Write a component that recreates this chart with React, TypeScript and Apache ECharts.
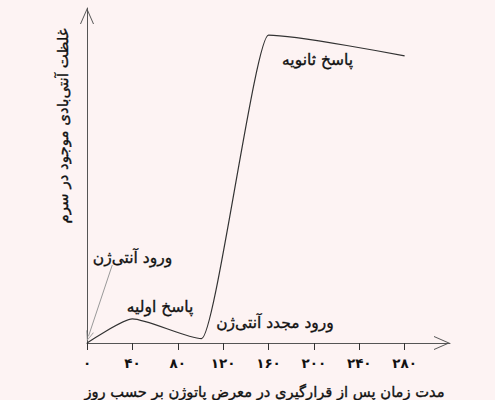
import React, { useEffect, useRef } from "react";
import * as echarts from "echarts";

// Time after exposure (days) and antibody concentration (relative units, 0-100)
const days = [0, 40, 101, 160, 280];
const antibody = [0, 7.2, 1.3, 91.9, 85.7];
const xTickValues = [0, 40, 80, 120, 160, 200, 240, 280];
const xMax = 320;
const yMax = 100;

const xAxisTitle = "مدت زمان پس از قرارگیری در معرض پاتوژن بر حسب روز";
const yAxisTitle = "غلظت آنتی\u200cبادی موجود در سرم";
const labelAntigenEntry = "ورود آنتی\u200cژن";
const labelPrimary = "پاسخ اولیه";
const labelReentry = "ورود مجدد آنتی\u200cژن";
const labelSecondary = "پاسخ ثانویه";

// arrow annotation from label to origin (data coords)
const arrowFrom = [22.3, 23.3];
const arrowTo = [1.3, 2.0];

const FONT = '"DejaVu Sans", sans-serif';
const toPersian = (s: string) => s.replace(/\d/g, (d) => "۰۱۲۳۴۵۶۷۸۹"[+d]);

const chevron = "path://M0,16 L7,0 L14,16 L13,16 L7,2.3 L1,16 Z";

export default function App() {
  const ref = useRef<HTMLDivElement>(null);
  useEffect(() => {
    document.body.style.margin = "0";
    const chart = echarts.init(ref.current!, undefined, { renderer: "svg" });
    const text = (t: string, x: number, y: number, size: number, rotation = 0) => ({
      type: "text",
      x,
      y,
      rotation,
      silent: true,
      style: {
        text: t,
        fontSize: size,
        fontFamily: FONT,
        fill: "#111",
        stroke: "#111",
        lineWidth: 0.35,
        align: "center",
        verticalAlign: "middle",
        textAlign: "center",
        textVerticalAlign: "middle",
      },
    });
    chart.setOption({
      animation: false,
      backgroundColor: "#fdf3f3",
      grid: { left: 87, right: 45, top: 8, bottom: 57, containLabel: false, outerBoundsMode: "none" },
      xAxis: {
        type: "value",
        min: 0,
        max: xMax,
        interval: 40,
        splitLine: { show: false },
        axisLine: {
          show: true,
          onZero: true,
          lineStyle: { color: "#555", width: 1 },
          symbol: ["none", chevron],
          symbolSize: [14, 16],
          symbolOffset: [0, -8],
        },
        axisTick: {
          show: true,
          length: 7,
          inside: false,
          lineStyle: { color: "#333" },
          customValues: xTickValues,
        },
        axisLabel: {
          show: true,
          customValues: xTickValues,
          margin: 13,
          fontSize: 13.5,
          fontWeight: "bold",
          fontFamily: FONT,
          color: "#111",
          formatter: (v: number) => (v > 280 ? "" : toPersian(String(v))),
        },
      },
      yAxis: {
        type: "value",
        min: 0,
        max: yMax,
        splitLine: { show: false },
        axisTick: { show: false },
        axisLabel: { show: false },
        axisLine: {
          show: true,
          lineStyle: { color: "#555", width: 1 },
          symbol: ["none", chevron],
          symbolSize: [14, 16],
          symbolOffset: [0, -8],
        },
      },
      series: [
        {
          type: "line",
          data: days.map((d, i) => [d, antibody[i]]),
          showSymbol: false,
          symbol: "none",
          smooth: 0.2,
          smoothMonotone: "x",
          lineStyle: { color: "#333", width: 1.2 },
          silent: true,
          markLine: {
            silent: true,
            symbol: ["none", "path://M0,10 L4,0 L8,10 L7.2,10 L4,2 L0.8,10 Z"],
            symbolSize: [8, 10],
            label: { show: false },
            lineStyle: { color: "#999", width: 1, type: "solid" },
            data: [[{ coord: arrowFrom }, { coord: arrowTo }]],
          },
        },
      ],
      graphic: [
        text(xAxisTitle, 264.5, 391.5, 14.7),
        text(yAxisTitle, 63, 126, 15, Math.PI / 2),
        text(labelAntigenEntry, 132.5, 258, 15.5),
        text(labelPrimary, 160, 306.5, 15.5),
        text(labelReentry, 275, 323, 15.5),
        text(labelSecondary, 317.5, 60, 15.5),
      ],
    });
    return () => chart.dispose();
  }, []);
  return <div ref={ref} style={{ width: 495, height: 400 }} />;
}
